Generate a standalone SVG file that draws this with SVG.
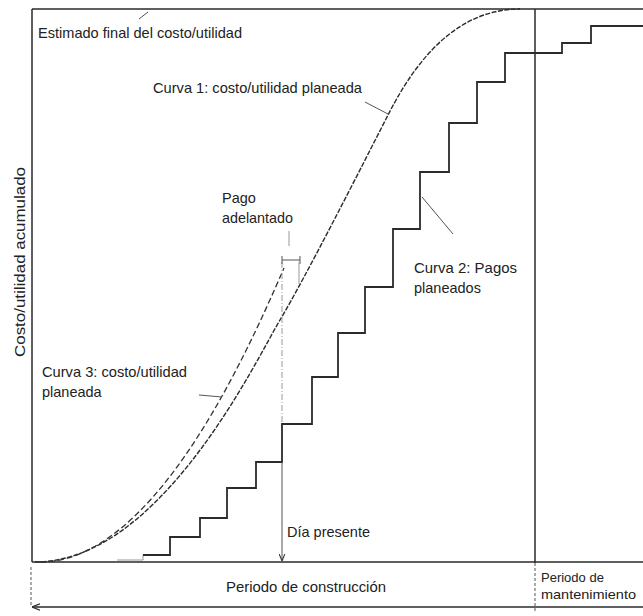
<svg xmlns="http://www.w3.org/2000/svg" width="643" height="616" viewBox="0 0 643 616">
  <style>
    .frame { fill: none; stroke: #2b2b2b; stroke-width: 1.5; }
    .thin { fill: none; stroke: #555; stroke-width: 1; }
    .faint { fill: none; stroke: #999; stroke-width: 1; }
    .step { fill: none; stroke: #2b2b2b; stroke-width: 1.8; stroke-linejoin: miter; }
    .c1 { fill: none; stroke: #2b2b2b; stroke-width: 1.4; stroke-dasharray: 5 1.5; }
    .c3 { fill: none; stroke: #333; stroke-width: 1.3; stroke-dasharray: 6 3; }
    .lbl { font-family: "Liberation Sans", Arial, sans-serif; font-size: 14.5px; fill: #222; }
    .small { font-size: 13px; }
  </style>
  <defs>
    <marker id="arrowDown" viewBox="0 0 10 10" refX="10" refY="5" markerWidth="7" markerHeight="7" orient="auto" markerUnits="userSpaceOnUse">
      <path d="M0,1 L10,5 L0,9" fill="none" stroke="#333" stroke-width="1.5"/>
    </marker>
    <marker id="arrowStart" viewBox="0 0 10 10" refX="0" refY="5" markerWidth="8" markerHeight="8" orient="auto" markerUnits="userSpaceOnUse">
      <path d="M10,1 L0,5 L10,9" fill="none" stroke="#333" stroke-width="1.5"/>
    </marker>
  </defs>

  <rect width="643" height="616" fill="#fff"/>

  <!-- chart frame, axes and period divider -->
  <g id="frame">
    <path class="frame" d="M32,9 H643 M32,9 V562 M32,562 H643 M535,9 V563"/>
    <path class="thin" d="M535,563 V611" stroke-dasharray="3 2"/>
    <path class="thin" d="M31,567 V605" stroke-dasharray="3 2"/>
    <path class="frame" d="M32,607 H643" marker-start="url(#arrowStart)"/>
  </g>

  <!-- cumulative curves -->
  <g id="curves">
    <path id="curva1" class="c1" d="M35,562 C160,562 255,362 280,320 C305,278 360,170 388,115 C410,72 450,9 520,9"/>
    <path id="curva3" class="c3" d="M40,562 C150,562 240,370 284,268"/>
    <path class="faint" d="M117,560 H143 V555"/>
    <path id="curva2" class="step" d="M143,555 H170 V537 H200 V518 H227 V488 H256 V462 H282 V424 H312 V377 H338 V333 H365 V287 H393 V229 H420 V172 H449 V123 H477 V82 H505 V53 H562 V43 H591 V26 H643"/>
  </g>

  <!-- present-day marker and advance payment bracket -->
  <g id="marcadores">
    <path class="faint" d="M282,262 V424" stroke-dasharray="6 2 1 2"/>
    <path class="thin" d="M282,462 V561" marker-end="url(#arrowDown)"/>
    <path class="thin" d="M282,260 H300 M282,256 V264 M300,256 V264"/>
    <path class="faint" d="M299,262 V284"/>
  </g>

  <!-- label leaders -->
  <g id="guias" class="thin">
    <path d="M139,19 L148,12"/>
    <path d="M365,102 L388,114"/>
    <path class="faint" d="M289,231 V246"/>
    <path d="M422,197 L453,234"/>
    <path d="M199,395 L222,397"/>
  </g>

  <!-- labels -->
  <g id="textos" class="lbl">
    <text x="38" y="38" textLength="204" lengthAdjust="spacingAndGlyphs">Estimado final del costo/utilidad</text>
    <text x="153" y="93" textLength="209" lengthAdjust="spacingAndGlyphs">Curva 1: costo/utilidad planeada</text>
    <text x="222" y="203">Pago</text>
    <text x="222" y="223" textLength="71" lengthAdjust="spacingAndGlyphs">adelantado</text>
    <text x="414" y="273" textLength="103" lengthAdjust="spacingAndGlyphs">Curva 2: Pagos</text>
    <text x="414" y="293">planeados</text>
    <text x="42" y="377" textLength="145" lengthAdjust="spacingAndGlyphs">Curva 3: costo/utilidad</text>
    <text x="42" y="397">planeada</text>
    <text x="287" y="537" textLength="83" lengthAdjust="spacingAndGlyphs">Día presente</text>
    <text x="226" y="592" textLength="160" lengthAdjust="spacingAndGlyphs">Periodo de construcción</text>
    <text class="small" x="541" y="582">Periodo de</text>
    <text class="small" x="541" y="599" textLength="95" lengthAdjust="spacingAndGlyphs">mantenimiento</text>
    <text transform="translate(25,262) rotate(-90)" text-anchor="middle" textLength="190" lengthAdjust="spacingAndGlyphs">Costo/utilidad acumulado</text>
  </g>
</svg>
